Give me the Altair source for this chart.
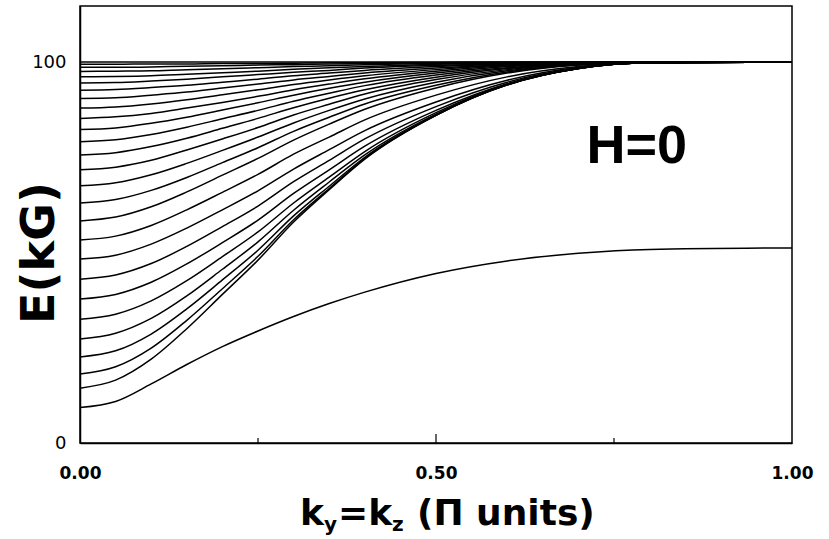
import altair as alt
import pandas as pd

# wave-vector grid (Pi units)
K = [0, 0.05, 0.1, 0.15, 0.2, 0.25, 0.3, 0.35, 0.4, 0.5, 0.6, 0.7, 0.8, 1.0]

# bulk-like branches, lowest to highest (E in kG)
B00 = [14.4, 16.5, 22.0, 30.0, 39.0, 48.0, 58.0, 66.5, 74.5, 86.0, 94.0, 98.3, 99.8, 100]
B01 = [18.1, 20.0, 24.9, 32.2, 40.5, 49.0, 58.6, 66.8, 74.7, 86.0, 94.0, 98.3, 99.8, 100]
B02 = [22.6, 24.2, 28.6, 35.2, 42.8, 50.6, 59.6, 67.4, 75.0, 86.1, 94.0, 98.3, 99.8, 100]
B03 = [27.3, 28.8, 32.7, 38.6, 45.6, 52.8, 61.1, 68.5, 75.6, 86.3, 94.1, 98.3, 99.8, 100]
B04 = [32.5, 33.8, 37.3, 42.6, 48.9, 55.4, 63.0, 69.8, 76.5, 86.7, 94.2, 98.3, 99.8, 100]
B05 = [37.8, 39.0, 42.2, 47.0, 52.6, 58.5, 65.5, 71.7, 77.9, 87.3, 94.3, 98.3, 99.8, 100]
B06 = [43.0, 44.1, 47.1, 51.6, 56.8, 62.2, 68.6, 74.2, 79.8, 88.3, 94.7, 98.4, 99.8, 100]
B07 = [48.3, 49.3, 52.2, 56.4, 61.2, 66.2, 71.9, 77.0, 82.0, 89.5, 95.2, 98.6, 99.8, 100]
B08 = [53.3, 54.3, 57.1, 61.2, 65.8, 70.5, 75.8, 80.3, 84.8, 91.3, 96.1, 98.8, 99.8, 100]
B09 = [58.3, 59.3, 62.0, 65.9, 70.3, 74.7, 79.5, 83.7, 87.6, 93.2, 97.1, 99.2, 99.9, 100]
B10 = [63.0, 63.9, 66.3, 69.7, 73.6, 77.5, 81.8, 85.5, 89.0, 93.9, 97.4, 99.3, 99.9, 100]
B11 = [67.5, 68.3, 70.4, 73.4, 76.8, 80.3, 84.0, 87.3, 90.3, 94.7, 97.7, 99.3, 99.9, 100]
B12 = [71.7, 72.4, 74.2, 76.9, 79.8, 82.8, 86.1, 88.9, 91.6, 95.4, 98.0, 99.4, 99.9, 100]
B13 = [75.6, 76.2, 77.8, 80.0, 82.6, 85.2, 88.0, 90.5, 92.7, 96.0, 98.3, 99.5, 100, 100]
B14 = [79.1, 79.6, 81.0, 82.9, 85.1, 87.3, 89.7, 91.8, 93.8, 96.6, 98.5, 99.6, 100, 100]
B15 = [82.3, 82.7, 83.9, 85.5, 87.4, 89.3, 91.3, 93.1, 94.7, 97.1, 98.8, 99.6, 100, 100]
B16 = [85.2, 85.6, 86.5, 87.9, 89.4, 91.0, 92.7, 94.2, 95.6, 97.6, 99.0, 99.7, 100, 100]
B17 = [87.9, 88.2, 89.0, 90.1, 91.4, 92.7, 94.1, 95.3, 96.4, 98.0, 99.2, 99.8, 100, 100]
B18 = [90.4, 90.6, 91.3, 92.1, 93.2, 94.2, 95.3, 96.2, 97.1, 98.4, 99.3, 99.8, 100, 100]
B19 = [92.6, 92.8, 93.3, 93.9, 94.7, 95.5, 96.4, 97.1, 97.8, 98.8, 99.5, 99.9, 100, 100]
B20 = [94.5, 94.6, 95.0, 95.5, 96.1, 96.7, 97.3, 97.8, 98.4, 99.1, 99.6, 99.9, 100, 100]
B21 = [96.1, 96.2, 96.4, 96.8, 97.2, 97.6, 98.1, 98.5, 98.8, 99.4, 99.7, 99.9, 100, 100]
B22 = [97.5, 97.6, 97.7, 98.0, 98.2, 98.5, 98.8, 99.0, 99.3, 99.6, 99.8, 100, 100, 100]
B23 = [98.6, 98.6, 98.7, 98.9, 99.0, 99.2, 99.3, 99.5, 99.6, 99.8, 99.9, 100, 100, 100]
B24 = [99.4, 99.4, 99.5, 99.5, 99.6, 99.6, 99.7, 99.8, 99.8, 99.9, 100, 100, 100, 100]
TOP = [100, 100, 100, 100, 100, 100, 100, 100, 100, 100, 100, 100, 100, 100]

# lowest (surface) branch
SURF = [9.3, 10.9, 15.5, 20.6, 25.3, 29.4, 33.2, 36.6, 39.6, 44.5, 47.8, 49.8, 50.8, 51.2]

BRANCHES = [B00, B01, B02, B03, B04, B05, B06, B07, B08, B09, B10, B11, B12,
            B13, B14, B15, B16, B17, B18, B19, B20, B21, B22, B23, B24, TOP, SURF]

X_TICK_VALUES = [0, 0.5, 1.0]
Y_TICK_VALUES = [0, 100]
MINOR_TICKS = [0.25, 0.75]
MAJOR_TICKS = [0.5]

rows = []
for i, vals in enumerate(BRANCHES):
    for k, e in zip(K, vals):
        rows.append({"k": k, "E": e, "branch": i})
df = pd.DataFrame(rows)

FONT = "Liberation Sans"
TITLE_FONT = "DejaVu Sans"
W, H = 712, 437

xscale = alt.Scale(domain=[0, 1], nice=False)
yscale = alt.Scale(domain=[0, 114.7], nice=False, zero=False)

lines = alt.Chart(df).mark_line(color="black", strokeWidth=1.5, interpolate="monotone").encode(
    x=alt.X("k:Q", scale=xscale,
            axis=alt.Axis(values=X_TICK_VALUES, format=".2f", title=None, ticks=False, grid=False,
                          labelFlush=False,
                          labelFont="DejaVu Sans", labelFontSize=17, labelFontWeight="bold",
                          labelColor="black", labelPadding=22, domainColor="black", domainWidth=1.5)),
    y=alt.Y("E:Q", scale=yscale,
            axis=alt.Axis(values=Y_TICK_VALUES, format="d", title=None, ticks=False, grid=False,
                          labelFlush=False,
                          labelFont="DejaVu Sans", labelFontSize=18, labelColor="black",
                          labelPadding=14, domainColor="black", domainWidth=1.5)),
    detail="branch:N",
)

minor = alt.Chart(pd.DataFrame({"k": MINOR_TICKS})).mark_rule(color="black", strokeWidth=1.2).encode(
    x=alt.X("k:Q", scale=xscale),
    y=alt.value(H),
    y2=alt.value(H - 5),
)
major = alt.Chart(pd.DataFrame({"k": MAJOR_TICKS})).mark_rule(color="black", strokeWidth=1.2).encode(
    x=alt.X("k:Q", scale=xscale),
    y=alt.value(H),
    y2=alt.value(H - 9),
)

label = alt.Chart(pd.DataFrame({"k": [0.782], "E": [77.6], "t": ["H=0"]})).mark_text(
    font=FONT, fontSize=54, fontWeight="bold", color="black", baseline="middle"
).encode(x=alt.X("k:Q", scale=xscale), y=alt.Y("E:Q", scale=yscale), text="t:N")

ytitle = alt.Chart(pd.DataFrame({"t": ["E(kG)"]})).mark_text(
    font=TITLE_FONT, fontSize=46, fontWeight="bold", angle=270, color="black", baseline="middle"
).encode(x=alt.value(-40), y=alt.value(247), text="t:N")

xt_parts = [
    ("k", 220, 519, 36),
    ("y", 244, 525, 20),
    ("=k", 258, 519, 36),
    ("z", 312, 525, 20),
    ("(\u03a0 units)", 337, 519, 36),
]
xtitle_layers = []
for txt, px, py, fs in xt_parts:
    xtitle_layers.append(
        alt.Chart(pd.DataFrame({"t": [txt]})).mark_text(
            font=TITLE_FONT, fontSize=fs, fontWeight="bold", align="left", baseline="alphabetic",
            color="black"
        ).encode(x=alt.value(px), y=alt.value(py), text="t:N")
    )

chart = alt.layer(lines, minor, major, label, ytitle, *xtitle_layers).properties(
    width=W, height=H,
    autosize=alt.AutoSizeParams(type="none"),
    padding={"left": 80, "top": 6, "right": 37, "bottom": 96},
).configure_view(stroke="black", strokeWidth=1.5)

chart.save("out.html", embed_options={"renderer": "svg", "actions": False})
